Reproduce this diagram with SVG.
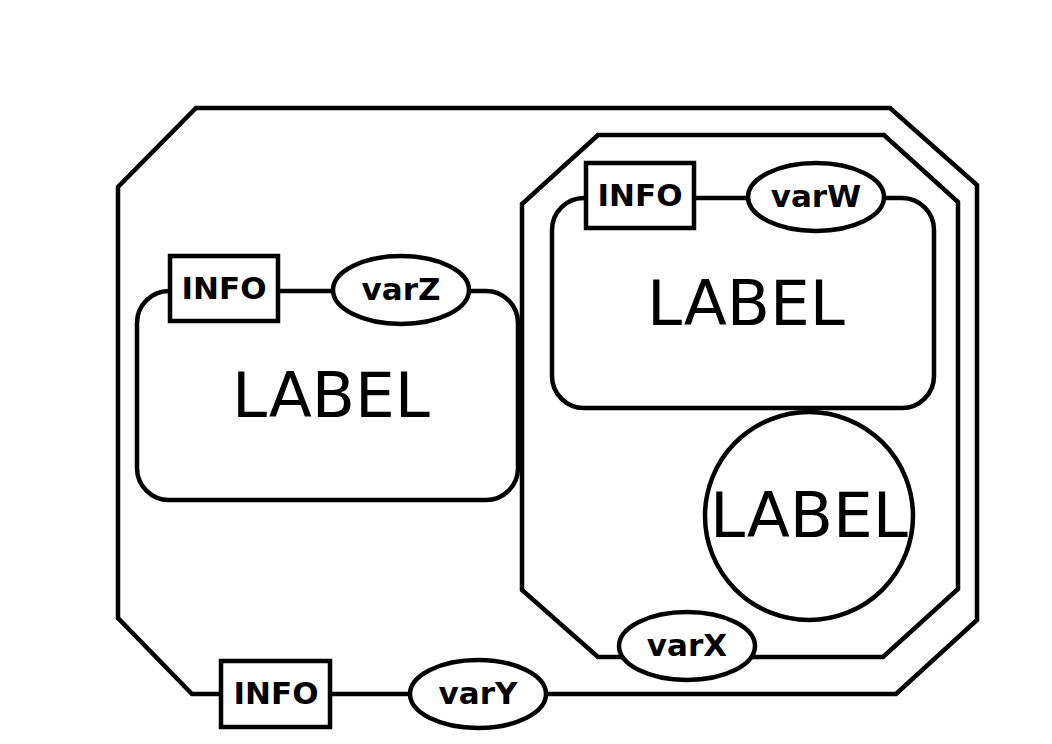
<svg xmlns="http://www.w3.org/2000/svg" width="1052" height="744" viewBox="0 0 1052 744">
<style>
.s{fill:#fff;stroke:#000;stroke-width:4.5}
.big{font-family:"DejaVu Sans",sans-serif;font-size:63px;text-anchor:middle;dominant-baseline:central}
.sm{font-family:"DejaVu Sans",sans-serif;font-weight:bold;font-size:31px;text-anchor:middle;dominant-baseline:central}
</style>
<rect width="1052" height="744" fill="#fff"/>
<g id="outer">
<polygon class="s" points="196,108 890,108 977,185 977,620 896,694 192,694 118,618 118,187"/>
</g>
<g id="inner">
<polygon class="s" points="598,135 884,135 958,202 958,589 883,657 598,657 522,590 522,204"/>
</g>
<g id="nodeLeft">
<rect class="s" x="137" y="291" width="381" height="209" rx="32"/>
<text class="big" x="331" y="395">LABEL</text>
<rect class="s" x="170" y="256" width="108" height="65"/>
<text class="sm" x="224" y="288">INFO</text>
<ellipse class="s" cx="401" cy="290" rx="68" ry="34"/>
<text class="sm" x="401" y="289">varZ</text>
</g>
<g id="nodeRightTop">
<rect class="s" x="552" y="198" width="382" height="210" rx="32"/>
<text class="big" x="746" y="303">LABEL</text>
<rect class="s" x="586" y="163" width="108" height="65"/>
<text class="sm" x="640" y="195">INFO</text>
<ellipse class="s" cx="816" cy="197" rx="68" ry="34"/>
<text class="sm" x="816" y="196">varW</text>
</g>
<g id="nodeCircle">
<circle class="s" cx="809" cy="516" r="104"/>
<text class="big" x="809" y="515">LABEL</text>
</g>
<g id="varX">
<ellipse class="s" cx="687" cy="646" rx="68" ry="34"/>
<text class="sm" x="687" y="645">varX</text>
</g>
<g id="outerInfo">
<rect class="s" x="221" y="661" width="109" height="66"/>
<text class="sm" x="276" y="693">INFO</text>
</g>
<g id="varY">
<ellipse class="s" cx="478" cy="694" rx="68" ry="34"/>
<text class="sm" x="478" y="693">varY</text>
</g>
<g id="connectors"/>
</svg>
